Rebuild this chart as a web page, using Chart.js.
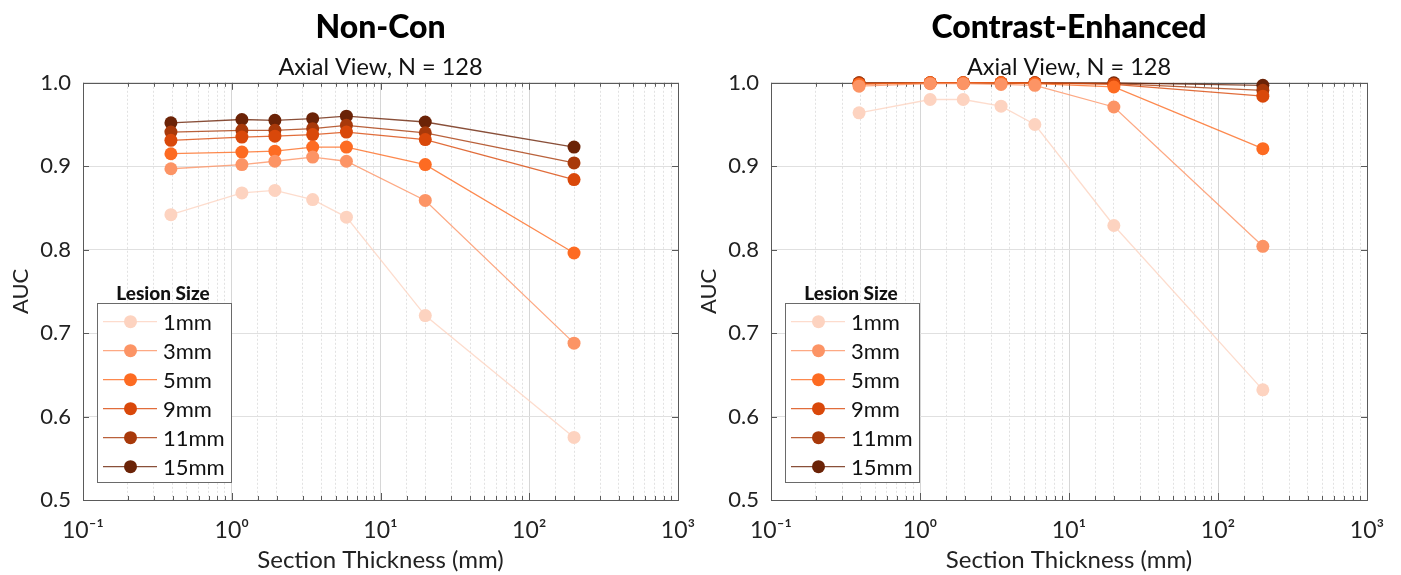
<!DOCTYPE html>
<html>
<head>
<meta charset="utf-8">
<script src="https://cdn.jsdelivr.net/npm/chart.js@4.4.1/dist/chart.umd.min.js"></script>
<style>
  html, body { margin: 0; padding: 0; background: #fff; }
  body { width: 1401px; height: 575px; position: relative; overflow: hidden; }
  .panel { position: absolute; top: 0; height: 575px; }
  #p1 { left: 0; width: 700px; }
  #p2 { left: 688px; width: 713px; }
</style>
</head>
<body>
<div class="panel" id="p1"><canvas id="c1"></canvas></div>
<div class="panel" id="p2"><canvas id="c2"></canvas></div>
<script>
// ---------- data ----------
const thickness = [0.39, 1.17, 1.95, 3.5, 5.9, 20, 200];
const lesionSizes = ['1mm', '3mm', '5mm', '9mm', '11mm', '15mm'];
const seriesColors = ['#fdd3c0', '#fc9465', '#fd6b22', '#d9480a', '#a8390a', '#6b2307'];

const nonCon1mm  = [0.842, 0.868, 0.871, 0.860, 0.839, 0.721, 0.575];
const nonCon3mm  = [0.897, 0.902, 0.906, 0.911, 0.906, 0.859, 0.688];
const nonCon5mm  = [0.915, 0.917, 0.918, 0.923, 0.923, 0.902, 0.796];
const nonCon9mm  = [0.931, 0.935, 0.936, 0.938, 0.941, 0.932, 0.884];
const nonCon11mm = [0.941, 0.943, 0.943, 0.945, 0.949, 0.940, 0.904];
const nonCon15mm = [0.952, 0.956, 0.955, 0.957, 0.960, 0.953, 0.923];

const contrast1mm  = [0.964, 0.980, 0.980, 0.972, 0.950, 0.829, 0.632];
const contrast3mm  = [0.996, 0.999, 0.999, 0.998, 0.997, 0.971, 0.804];
const contrast5mm  = [0.998, 1.000, 1.000, 1.000, 0.999, 0.995, 0.921];
const contrast9mm  = [0.999, 1.000, 1.000, 1.000, 1.000, 0.998, 0.984];
const contrast11mm = [1.000, 1.000, 1.000, 1.000, 1.000, 0.999, 0.991];
const contrast15mm = [1.000, 1.000, 1.000, 1.000, 1.000, 1.000, 0.997];

const decadeValues = [0.1, 1, 10, 100, 1000];
const decadeLabels = ['10\u207B\u00B9', '10\u2070', '10\u00B9', '10\u00B2', '10\u00B3'];

const panelTitles = ['Non-Con', 'Contrast-Enhanced'];
const panelSubtitle = 'Axial View, N = 128';
const xAxisTitle = 'Section Thickness (mm)';
const yAxisTitle = 'AUC';
const legendTitle = 'Lesion Size';

// ---------- helpers ----------
const FONT = 'Lato, "DejaVu Sans", sans-serif';
function isDecade(v) {
  const l = Math.log10(v);
  return Math.abs(l - Math.round(l)) < 1e-6;
}
function decadeLabel(v) {
  for (let i = 0; i < decadeValues.length; i++) {
    if (Math.abs(Math.log10(v) - Math.log10(decadeValues[i])) < 1e-6) return decadeLabels[i];
  }
  return '';
}
function hexA(hex, a) {
  const n = parseInt(hex.slice(1), 16);
  return `rgba(${(n >> 16) & 255},${(n >> 8) & 255},${n & 255},${a})`;
}
function makeDatasets(seriesList) {
  return seriesList.map((vals, i) => ({
    label: lesionSizes[i],
    data: thickness.map((t, j) => ({ x: t, y: vals[j] })),
    borderColor: hexA(seriesColors[i], 0.8),
    backgroundColor: seriesColors[i],
    pointBackgroundColor: seriesColors[i],
    pointBorderColor: seriesColors[i],
    pointRadius: 6.5,
    pointBorderWidth: 0,
    borderWidth: 1.3,
    tension: 0,
    clip: false
  }));
}

const frameAndTicks = {
  id: 'frameAndTicks',
  beforeDatasetsDraw(chart) {
    const { ctx, chartArea: { left, right, top, bottom }, scales: { x, y } } = chart;
    ctx.save();
    ctx.strokeStyle = '#5a5a5a';
    ctx.lineWidth = 1;
    ctx.beginPath();
    x.ticks.forEach(t => {
      const px = Math.round(x.getPixelForValue(t.value)) + 0.5;
      const L = isDecade(t.value) ? 7 : 4;
      ctx.moveTo(px, bottom); ctx.lineTo(px, bottom - L);
      ctx.moveTo(px, top); ctx.lineTo(px, top + L);
    });
    y.ticks.forEach(t => {
      const py = Math.round(y.getPixelForValue(t.value)) + 0.5;
      ctx.moveTo(left, py); ctx.lineTo(left + 6, py);
      ctx.moveTo(right, py); ctx.lineTo(right - 6, py);
    });
    ctx.stroke();
    ctx.strokeRect(Math.round(left) + 0.5, Math.round(top) + 0.5,
                   Math.round(right - left), Math.round(bottom - top));
    ctx.restore();
  }
};

const insetLegend = {
  id: 'insetLegend',
  afterDatasetsDraw(chart) {
    const { ctx, chartArea } = chart;
    const w = 134, h = 179;
    const x0 = Math.round(chartArea.left + 14);
    const y0 = Math.round(chartArea.bottom - 18 - h);
    ctx.save();
    ctx.fillStyle = '#fff';
    ctx.fillRect(x0, y0, w, h);
    ctx.strokeStyle = '#6a6a6a';
    ctx.lineWidth = 1;
    ctx.strokeRect(x0 + 0.5, y0 + 0.5, w, h);
    ctx.fillStyle = '#111';
    ctx.font = '900 19px ' + FONT;
    ctx.textAlign = 'center';
    ctx.textBaseline = 'middle';
    ctx.fillText(legendTitle, x0 + w / 2 - 1, y0 - 9);
    chart.data.datasets.forEach((ds, i) => {
      const yy = y0 + 18.7 + i * 29;
      ctx.strokeStyle = ds.borderColor;
      ctx.lineWidth = 1.3;
      ctx.beginPath();
      ctx.moveTo(x0 + 6, yy); ctx.lineTo(x0 + 60, yy);
      ctx.stroke();
      ctx.fillStyle = ds.pointBackgroundColor;
      ctx.beginPath();
      ctx.arc(x0 + 33.5, yy, 6.5, 0, Math.PI * 2);
      ctx.fill();
      ctx.fillStyle = '#111';
      ctx.font = '22px ' + FONT;
      ctx.textAlign = 'left';
      ctx.fillText(ds.label, x0 + 66, yy + 1);
    });
    ctx.restore();
  }
};

function makeOptions(title, padRight) {
  return {
    responsive: true,
    maintainAspectRatio: false,
    animation: false,
    layout: { padding: { left: 0, right: padRight, top: 0, bottom: 0 } },
    plugins: {
      legend: { display: false },
      tooltip: { enabled: false },
      title: {
        display: true, text: title, fullSize: false, color: '#000',
        font: { family: FONT, size: 32, weight: '900', lineHeight: 1.2 },
        padding: { top: 8, bottom: 7 }
      },
      subtitle: {
        display: true, text: panelSubtitle, fullSize: false, color: '#111',
        font: { family: FONT, size: 23.5, weight: 'normal', lineHeight: 1.2 },
        padding: { top: 0, bottom: 1.2 }
      }
    },
    scales: {
      x: {
        type: 'logarithmic',
        min: 0.1, max: 1000,
        afterFit: s => { s.height = 75; s.paddingLeft = 0; s.paddingRight = 0; },
        title: {
          display: true, text: xAxisTitle, color: '#222',
          font: { family: FONT, size: 24 }, padding: { top: 4, bottom: 0 }
        },
        ticks: {
          autoSkip: false, maxRotation: 0, minRotation: 0, padding: 17,
          color: '#222', font: { family: FONT, size: 23 },
          callback: v => decadeLabel(v)
        },
        grid: {
          drawTicks: false,
          color: c => (c.tick && isDecade(c.tick.value)) ? '#d6d6d6' : '#e2e2e2',
          lineWidth: 1
        },
        border: {
          display: false,
          dash: c => (c.tick && !isDecade(c.tick.value)) ? [2, 2] : []
        }
      },
      y: {
        min: 0.5, max: 1.0,
        afterFit: s => { s.width = 83; },
        title: {
          display: true, text: yAxisTitle, color: '#222',
          font: { family: FONT, size: 22 }, padding: { top: 8, bottom: 0 }
        },
        ticks: {
          stepSize: 0.1, padding: 12, color: '#222',
          font: { family: FONT, size: 22 },
          callback: v => Number(v).toFixed(1)
        },
        grid: { drawTicks: false, color: '#e0e0e0', lineWidth: 1 },
        border: { display: false }
      }
    }
  };
}

new Chart(document.getElementById('c1'), {
  type: 'line',
  data: { datasets: makeDatasets([nonCon1mm, nonCon3mm, nonCon5mm, nonCon9mm, nonCon11mm, nonCon15mm]) },
  options: makeOptions(panelTitles[0], 22),
  plugins: [frameAndTicks, insetLegend]
});
new Chart(document.getElementById('c2'), {
  type: 'line',
  data: { datasets: makeDatasets([contrast1mm, contrast3mm, contrast5mm, contrast9mm, contrast11mm, contrast15mm]) },
  options: makeOptions(panelTitles[1], 34),
  plugins: [frameAndTicks, insetLegend]
});
</script>
</body>
</html>
